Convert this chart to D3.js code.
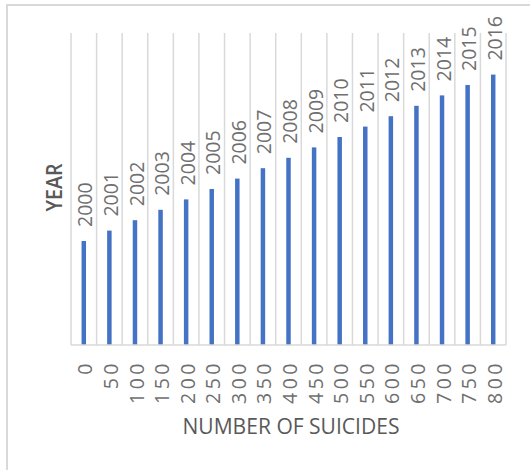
<!DOCTYPE html>
<html>
<head>
<meta charset="utf-8">
<script src="https://cdn.jsdelivr.net/npm/d3@7"></script>
<style>
  html, body { margin: 0; padding: 0; background: #ffffff; }
  svg { display: block; }
  text { font-family: "Open Sans", "Noto Sans", sans-serif; }
</style>
</head>
<body>
<svg id="chart" width="530" height="470"></svg>
<script>
// Category labels along the bottom (number of suicides)
const categories = ["0", "50", "100", "150", "200", "250", "300", "350", "400",
                    "450", "500", "550", "600", "650", "700", "750", "800"];
// Bar values: the year for each category
const years = [2000, 2001, 2002, 2003, 2004, 2005, 2006, 2007, 2008,
               2009, 2010, 2011, 2012, 2013, 2014, 2015, 2016];
// Value axis extent
const yearDomain = [1990, 2020];

const xAxisTitle = "NUMBER OF SUICIDES";
const yAxisTitle = "YEAR";

const svg = d3.select("#chart");
const W = 530, H = 470;
const plot = { left: 71, right: 506, top: 33, bottom: 345 };

// Chart frame (only top and left edges fall inside the view)
svg.append("rect")
  .attr("x", 7).attr("y", 5)
  .attr("width", W + 20).attr("height", H + 20)
  .attr("fill", "#ffffff")
  .attr("stroke", "#d9d9d9").attr("stroke-width", 2);

const data = categories.map((c, i) => ({ cat: c, year: years[i] }));

const pad = 0.825;
const x = d3.scaleBand()
  .domain(categories)
  .range([plot.left, plot.right])
  .paddingInner(pad)
  .paddingOuter(pad / 2);

const y = d3.scaleLinear()
  .domain(yearDomain)
  .range([plot.bottom, plot.top]);

// Vertical gridlines at category boundaries
const step = x.step();
const bounds = d3.range(categories.length + 1).map(i => plot.left + i * step);
svg.append("g")
  .selectAll("line")
  .data(bounds)
  .join("line")
  .attr("x1", d => d).attr("x2", d => d)
  .attr("y1", plot.top).attr("y2", plot.bottom)
  .attr("stroke", "#d9d9d9").attr("stroke-width", 1.5);

// Bars
svg.append("g")
  .selectAll("rect")
  .data(data)
  .join("rect")
  .attr("x", d => x(d.cat))
  .attr("width", x.bandwidth())
  .attr("y", d => y(d.year))
  .attr("height", d => y(yearDomain[0]) - y(d.year))
  .attr("fill", "#4472c4");

// Category axis
const xAxis = svg.append("g")
  .attr("transform", `translate(0,${plot.bottom})`)
  .call(d3.axisBottom(x).tickSize(0).tickPadding(0));
xAxis.select(".domain")
  .attr("stroke", "#d9d9d9").attr("stroke-width", 1.5)
  .attr("d", `M${plot.left},0H${plot.right}`);
xAxis.selectAll(".tick text")
  .attr("font-family", "'Open Sans', sans-serif")
  .attr("font-size", 19.5)
  .attr("fill", "#6f6f6f")
  .style("letter-spacing", "3.5px")
  .attr("text-anchor", "end")
  .attr("transform", "rotate(-90)")
  .attr("x", -15)
  .attr("y", 1.5)
  .attr("dy", "0.36em");

// Value labels above the bars
svg.append("g")
  .selectAll("text")
  .data(data)
  .join("text")
  .attr("transform", d => `translate(${x(d.cat) + x.bandwidth() / 2 + 1.5},${y(d.year) - 14}) rotate(-90)`)
  .attr("dy", "0.36em")
  .attr("text-anchor", "start")
  .attr("font-size", 19.5)
  .attr("fill", "#6f6f6f")
  .text(d => d.year);

// Axis titles
svg.append("text")
  .attr("x", 291).attr("y", 434)
  .attr("text-anchor", "middle")
  .attr("font-size", 21)
  .attr("fill", "#595959")
  .attr("textLength", 217)
  .attr("lengthAdjust", "spacingAndGlyphs")
  .text(xAxisTitle);

svg.append("text")
  .attr("transform", "translate(61.5,187.5) rotate(-90)")
  .attr("text-anchor", "middle")
  .attr("font-size", 21)
  .attr("font-weight", 600)
  .attr("fill", "#595959")
  .attr("textLength", 48)
  .attr("lengthAdjust", "spacingAndGlyphs")
  .text(yAxisTitle);
</script>
</body>
</html>
